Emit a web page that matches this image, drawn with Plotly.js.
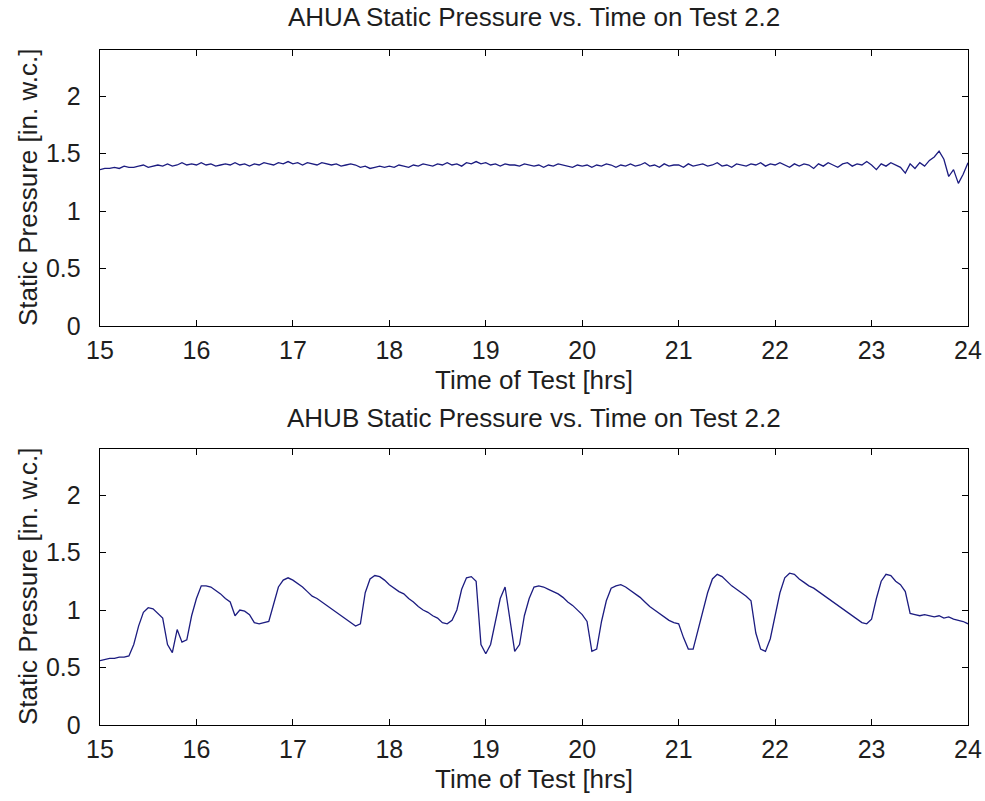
<!DOCTYPE html>
<html>
<head>
<meta charset="utf-8">
<script src="https://cdn.plot.ly/plotly-3.0.1.min.js"></script>
<style>html,body{margin:0;padding:0;background:#fff;}#chart{width:985px;height:801px;}</style>
</head>
<body>
<div id="chart"></div>
<script>
// Sampling: first hour and step (hours)
const startHour = 15;
const stepHours = 0.05;

// AHUA static pressure [in. w.c.], every 0.05 h from 15.00 to 24.00
const ahuaPressure = [
  1.36,1.37,1.37,1.38,1.37,1.39,1.38,1.38,1.39,1.40,1.38,1.39,1.40,1.39,1.41,1.39,1.40,1.42,1.40,1.41,
  1.40,1.42,1.40,1.41,1.39,1.40,1.41,1.40,1.42,1.40,1.41,1.39,1.41,1.40,1.42,1.41,1.40,1.42,1.41,1.43,
  1.41,1.42,1.40,1.42,1.41,1.40,1.42,1.41,1.40,1.41,1.39,1.40,1.41,1.40,1.38,1.39,1.37,1.38,1.39,1.38,
  1.39,1.38,1.40,1.39,1.38,1.40,1.39,1.41,1.40,1.39,1.41,1.40,1.42,1.40,1.41,1.39,1.42,1.41,1.43,1.41,
  1.42,1.40,1.41,1.39,1.41,1.40,1.40,1.39,1.41,1.40,1.39,1.40,1.38,1.40,1.39,1.41,1.40,1.39,1.38,1.40,
  1.39,1.40,1.38,1.40,1.39,1.41,1.40,1.38,1.40,1.39,1.41,1.39,1.40,1.42,1.39,1.40,1.38,1.41,1.39,1.40,
  1.40,1.38,1.41,1.39,1.40,1.41,1.39,1.40,1.42,1.39,1.40,1.38,1.41,1.40,1.39,1.41,1.40,1.42,1.39,1.41,
  1.40,1.42,1.40,1.38,1.41,1.39,1.41,1.40,1.37,1.41,1.39,1.42,1.40,1.38,1.41,1.42,1.39,1.41,1.40,1.43,
  1.40,1.36,1.41,1.39,1.42,1.40,1.38,1.33,1.41,1.37,1.42,1.39,1.44,1.47,1.52,1.45,1.30,1.36,1.24,1.32,
  1.42
];

// AHUB static pressure [in. w.c.], every 0.05 h from 15.00 to 24.00
const ahubPressure = [
  0.56,0.57,0.58,0.58,0.59,0.59,0.60,0.70,0.86,0.98,1.02,1.01,0.97,0.93,0.70,0.63,0.83,0.72,0.74,0.95,
  1.10,1.21,1.21,1.20,1.17,1.14,1.10,1.07,0.95,1.00,0.99,0.96,0.89,0.88,0.89,0.90,1.05,1.20,1.26,1.28,
  1.26,1.23,1.20,1.16,1.12,1.10,1.07,1.04,1.01,0.98,0.95,0.92,0.89,0.86,0.88,1.15,1.27,1.30,1.29,1.26,
  1.22,1.19,1.16,1.14,1.10,1.07,1.03,1.00,0.98,0.95,0.93,0.89,0.88,0.91,1.00,1.18,1.28,1.29,1.25,0.70,
  0.62,0.70,0.90,1.10,1.20,0.90,0.64,0.70,0.95,1.10,1.20,1.21,1.20,1.18,1.16,1.14,1.11,1.07,1.04,1.00,
  0.96,0.90,0.64,0.66,0.90,1.08,1.19,1.21,1.22,1.20,1.17,1.14,1.11,1.07,1.03,1.00,0.97,0.94,0.91,0.89,
  0.88,0.76,0.66,0.66,0.82,1.00,1.15,1.27,1.31,1.29,1.25,1.21,1.18,1.15,1.12,1.08,0.80,0.66,0.64,0.75,
  0.95,1.15,1.28,1.32,1.31,1.27,1.24,1.21,1.19,1.16,1.13,1.10,1.07,1.04,1.01,0.98,0.95,0.92,0.89,0.88,
  0.92,1.10,1.25,1.31,1.30,1.25,1.22,1.16,0.97,0.96,0.95,0.96,0.95,0.94,0.95,0.93,0.94,0.92,0.91,0.90,
  0.88
];

const xTicks = [15,16,17,18,19,20,21,22,23,24];
const yTicks = [0,0.5,1,1.5,2];
const yTickText = ['0','0.5','1','1.5','2'];

const topTitle = 'AHUA Static Pressure vs. Time on Test 2.2';
const bottomTitle = 'AHUB Static Pressure vs. Time on Test 2.2';
const xLabel = 'Time of Test [hrs]';
const yLabel = 'Static Pressure [in. w.c.]';

const W = 985, H = 801;
const fontFam = '"Liberation Sans", Arial, Helvetica, sans-serif';
const fs = 25;
const fsTitle = 26;
const txtColor = '#1e1e1e';
const lineColor = '#1c1c80';

const axL = 100 / W, axR = 968 / W;
const topDom = [(H - 326) / H, (H - 50) / H];
const botDom = [(H - 725) / H, (H - 449) / H];

function xa(anchor) {
  return {
    domain: [axL, axR], anchor: anchor, range: [15, 24],
    tickvals: xTicks, ticks: 'inside', ticklen: 6, tickcolor: '#000',
    showline: true, mirror: 'ticks', linecolor: '#000', linewidth: 1.3,
    showgrid: false, zeroline: false,
    tickfont: {family: fontFam, size: fs, color: txtColor},
    ticklabelstandoff: 2
  };
}
function ya(anchor, dom) {
  return {
    domain: dom, anchor: anchor, range: [0, 2.4],
    tickvals: yTicks, ticktext: yTickText, ticks: 'inside', ticklen: 6, tickcolor: '#000',
    showline: true, mirror: 'ticks', linecolor: '#000', linewidth: 1.3,
    showgrid: false, zeroline: false,
    tickfont: {family: fontFam, size: fs, color: txtColor},
    ticklabelstandoff: 13
  };
}

const traces = [
  {type: 'scatter', mode: 'lines', x0: startHour, dx: stepHours, y: ahuaPressure,
   xaxis: 'x', yaxis: 'y', line: {color: lineColor, width: 1.3}, hoverinfo: 'skip'},
  {type: 'scatter', mode: 'lines', x0: startHour, dx: stepHours, y: ahubPressure,
   xaxis: 'x2', yaxis: 'y2', line: {color: lineColor, width: 1.3}, hoverinfo: 'skip'}
];

const cx = (100 + 968) / 2 / W;
function ann(text, x, yPx, angle) {
  return {text: text, xref: 'paper', yref: 'paper', x: x, y: (H - yPx) / H,
          xanchor: 'center', yanchor: 'middle', showarrow: false, textangle: angle || 0,
          font: {family: fontFam, size: fsTitle, color: txtColor}};
}

const layout = {
  width: W, height: H, margin: {l: 0, r: 0, t: 0, b: 0},
  paper_bgcolor: '#fff', plot_bgcolor: '#fff', showlegend: false,
  xaxis: xa('y'), yaxis: ya('x', topDom),
  xaxis2: xa('y2'), yaxis2: ya('x2', botDom),
  annotations: [
    ann(topTitle, cx, 17),
    ann(xLabel, cx, 380),
    ann(bottomTitle, cx, 418),
    ann(xLabel, cx, 779),
    ann(yLabel, 28 / W, 188, -90),
    ann(yLabel, 28 / W, 587, -90)
  ]
};

Plotly.newPlot('chart', traces, layout, {staticPlot: true, displayModeBar: false});
</script>
</body>
</html>
